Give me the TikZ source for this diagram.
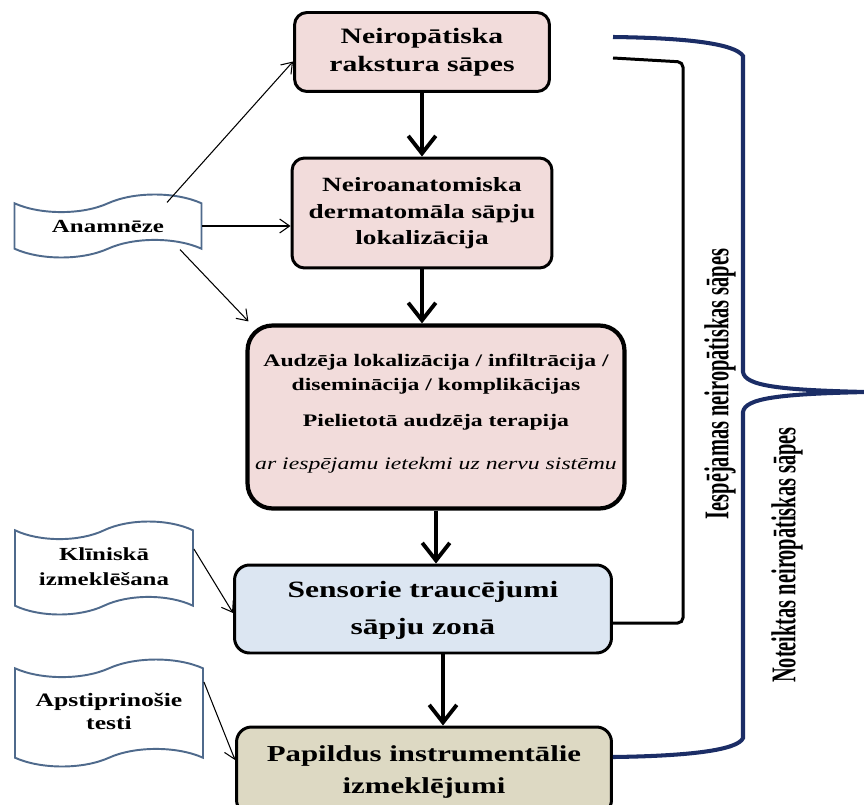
\documentclass[tikz,border=0pt]{standalone}
\usepackage{fontspec}
\setmainfont{Liberation Serif}
\usepackage{graphicx}
\usetikzlibrary{arrows.meta,shapes.symbols}
\definecolor{stagePink}{HTML}{F2DCDB}
\definecolor{stageBlue}{HTML}{DCE6F2}
\definecolor{stageSand}{HTML}{DDD9C3}
\definecolor{tapeEdge}{HTML}{4F6A8C}
\definecolor{braceBlue}{HTML}{1B2D66}
\newcommand{\widetxt}[1]{\scalebox{1.35}[1]{#1}}
\newcommand{\talltxt}[1]{\scalebox{1}[1.7]{#1}}

\begin{document}
\begin{tikzpicture}[
    x=0.02cm, y=-0.02cm,
    stage/.style={rectangle, rounded corners=0.25cm, draw, line width=1.7pt, inner sep=0pt},
    source/.style={tape, draw=tapeEdge, line width=1.1pt, fill=white, tape bend top=in and out,
        tape bend bottom=in and out, tape bend height=10pt, inner sep=0pt},
    flow/.style={-{Straight Barb[length=3.5mm,width=5.5mm]}, line width=2.2pt},
    link/.style={-{Straight Barb[length=2mm,width=2.8mm]}, line width=0.6pt},
    side/.style={rotate=90, font=\bfseries\fontsize{11.6}{14}\selectfont}
]
\clip (0,0) rectangle (864,804);

% Main stages
\node[stage, fill=stagePink, minimum width=5.1cm, minimum height=1.58cm,
    font=\bfseries\fontsize{12.5}{16}\selectfont] (neuroPain) at (422,52) {
    \widetxt{\begin{tabular}{c}
    Neiropātiska \\
    rakstura sāpes
    \end{tabular}}
};

\node[stage, fill=stagePink, minimum width=5.2cm, minimum height=2.2cm,
    font=\bfseries\fontsize{11.5}{15}\selectfont] (dermLoc) at (422,213) {
    \widetxt{\begin{tabular}{c}
    Neiroanatomiska \\
    dermatomāla sāpju \\
    lokalizācija
    \end{tabular}}
};

\node[stage, fill=stagePink, rounded corners=0.5cm, line width=2.4pt, minimum width=7.54cm,
    minimum height=3.66cm, font=\bfseries\fontsize{10}{13.6}\selectfont] (tumour) at (436,417) {
    \widetxt{\begin{tabular}{@{}c@{}}
    Audzēja lokalizācija / infiltrācija / \\
    diseminācija / komplikācijas \\[7pt]
    Pielietotā audzēja terapija \\[11pt]
    {\mdseries\itshape\fontsize{10}{13}\selectfont ar iespējamu ietekmi uz nervu sistēmu} \\[4pt]
    \end{tabular}}
};

\node[stage, fill=stageBlue, rounded corners=0.3cm, minimum width=7.54cm, minimum height=1.76cm,
    font=\bfseries\fontsize{13.3}{21}\selectfont] (sensory) at (423,609) {
    \widetxt{\begin{tabular}{c}
    Sensorie traucējumi \\
    sāpju zonā
    \end{tabular}}
};

\node[stage, fill=stageSand, rounded corners=0.3cm, minimum width=7.5cm, minimum height=1.76cm,
    font=\bfseries\fontsize{13}{18}\selectfont] (extraTests) at (424,771) {
    \widetxt{\begin{tabular}{c}
    Papildus instrumentālie \\
    izmeklējumi
    \end{tabular}}
};

% Sources
\node[source, minimum width=3.74cm, minimum height=1.26cm,
    font=\bfseries\fontsize{10.5}{14}\selectfont] (anamnesis) at (108,226) {
    \widetxt{Anamnēze}
};

\node[source, minimum width=3.56cm, minimum height=1.86cm,
    font=\bfseries\fontsize{10.5}{14}\selectfont] (clinical) at (104,568) {
    \widetxt{\begin{tabular}{c}
    Klīniskā \\
    izmeklēšana
    \end{tabular}}
};

\node[source, minimum width=3.76cm, minimum height=2.14cm,
    font=\bfseries\fontsize{10.8}{13}\selectfont] (confirm) at (109,713) {
    \widetxt{\begin{tabular}{c}
    Apstiprinošie \\
    testi
    \end{tabular}}
};

% Flow
\draw[flow] (neuroPain.south) -- (dermLoc.north);
\draw[flow] (dermLoc.south) -- (dermLoc.south |- tumour.north);
\draw[flow] (tumour.south) -- (tumour.south |- sensory.north);
\draw[flow] ([xshift=0.4cm]sensory.south) -- ([xshift=0.4cm]sensory.south |- extraTests.north);

\draw[link] ([xshift=1.18cm]anamnesis.north) -- ([yshift=-0.19cm]neuroPain.west);
\draw[link] (anamnesis.east) -- (anamnesis.east -| dermLoc.west);
\draw[link] ([xshift=1.44cm]anamnesis.south) -- ([xshift=0.06cm,yshift=0.04cm]tumour.north west);
\draw[link] ([yshift=0.38cm]clinical.east) -- ([yshift=-0.08cm]sensory.west);
\draw[link] ([yshift=0.62cm]confirm.east) -- ([yshift=0.22cm]extraTests.west);

% Brackets
\coordinate (innerTop) at (613,58);
\coordinate (outerTop) at (613,37);
\coordinate (braceTip) at (866,392);
\draw[line width=1.7pt, rounded corners=3pt] (innerTop) -- (683,62) -- (683,623)
    -- ([yshift=-0.28cm]sensory.east);
\draw[braceBlue, line width=2.3pt] (outerTop) .. controls (690,38) and (735,44) .. (743,56)
    -- (743,372) .. controls (745,386) and (780,390) .. (braceTip)
    .. controls (780,394) and (745,398) .. (743,412)
    -- (743,738) .. controls (738,750) and (690,756) .. ([yshift=0.28cm]extraTests.east);

\node[side] (possiblePain) at (720,384) {\talltxt{Iespējamas neiropātiskas sāpes}};
\node[side] (definitePain) at (787,555) {\talltxt{Noteiktas neiropātiskas sāpes}};

\end{tikzpicture}
\end{document}
